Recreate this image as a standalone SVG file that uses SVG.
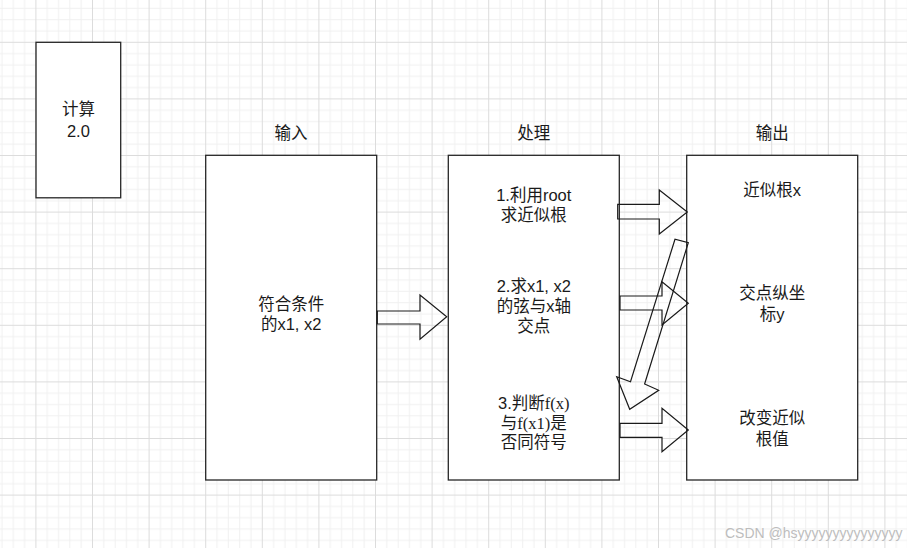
<svg xmlns="http://www.w3.org/2000/svg" width="907" height="548" viewBox="0 0 907 548">
  <defs>
    <pattern id="grid" patternUnits="userSpaceOnUse" x="35.4" y="41.8" width="56.6" height="56.6">
      <rect x="11.32" y="0" width="1" height="56.6" fill="#f0f0f0"/>
      <rect x="22.64" y="0" width="1" height="56.6" fill="#f0f0f0"/>
      <rect x="33.96" y="0" width="1" height="56.6" fill="#f0f0f0"/>
      <rect x="45.28" y="0" width="1" height="56.6" fill="#f0f0f0"/>
      <rect x="0" y="11.32" width="56.6" height="1" fill="#f0f0f0"/>
      <rect x="0" y="22.64" width="56.6" height="1" fill="#f0f0f0"/>
      <rect x="0" y="33.96" width="56.6" height="1" fill="#f0f0f0"/>
      <rect x="0" y="45.28" width="56.6" height="1" fill="#f0f0f0"/>
      <rect x="0" y="0" width="1" height="56.6" fill="#dcdcdc"/>
      <rect x="0" y="0" width="56.6" height="1" fill="#dcdcdc"/>
    </pattern>
  </defs>
  <style>
    .box { fill: #ffffff; stroke: #262626; stroke-width: 1.3; }
    .arrow { fill: none; stroke: #1a1a1a; stroke-width: 1.2; stroke-linejoin: miter; }
    text { font-family: "Liberation Sans", Arial, "Noto Sans CJK SC", sans-serif; font-size: 16.5px; fill: #1a1a1a; text-anchor: middle; }
    .serif { font-family: "Liberation Serif", "Times New Roman", serif; }
    .wm { font-size: 14px; fill: #bdbdbd; text-anchor: start; }
  </style>
  <rect x="0" y="0" width="907" height="548" fill="#ffffff"/>
  <rect x="0" y="0" width="907" height="548" fill="url(#grid)"/>

  <g id="node-calc">
    <rect class="box" x="36" y="42.3" width="84.7" height="155.5"/>
    <text x="78.4" y="115">计算</text>
    <text x="78.4" y="136.5">2.0</text>
  </g>

  <g id="label-input">
    <text x="291" y="139">输入</text>
  </g>
  <g id="label-process">
    <text x="533.8" y="139">处理</text>
  </g>
  <g id="label-output">
    <text x="772.2" y="139">输出</text>
  </g>

  <g id="node-input">
    <rect class="box" x="205.7" y="155.3" width="171" height="324.7"/>
    <text x="291.2" y="309.5">符合条件</text>
    <text x="291.2" y="330">的x1, x2</text>
  </g>

  <g id="node-process">
    <rect class="box" x="448.3" y="155.3" width="171" height="324.7"/>
    <text x="533.8" y="201">1.利用root</text>
    <text x="533.8" y="221">求近似根</text>
    <text x="533.8" y="291.5">2.求x1, x2</text>
    <text x="533.8" y="311.5">的弦与x轴</text>
    <text x="533.8" y="331.5">交点</text>
    <text x="533.8" y="409">3.判断<tspan class="serif">f(x)</tspan></text>
    <text x="533.8" y="428.5">与<tspan class="serif">f(x1)</tspan>是</text>
    <text x="533.8" y="448">否同符号</text>
  </g>

  <g id="node-output">
    <rect class="box" x="686.7" y="155.3" width="171" height="324.7"/>
    <text x="772.2" y="196">近似根x</text>
    <text x="772.2" y="299">交点纵坐</text>
    <text x="772.2" y="320">标y</text>
    <text x="772.2" y="424">改变近似</text>
    <text x="772.2" y="445">根值</text>
  </g>

  <g id="connectors">
    <polygon class="arrow" points="377.3,311 420,311 420,295 446.7,316.7 420,339.3 420,324 377.3,324"/>
    <polygon class="arrow" points="617.7,204.3 659.3,204.3 659.3,190 687.3,212 659.3,234 659.3,219 617.7,219"/>
    <polygon class="arrow" points="620,296 662,296 662,281.7 688.3,303.3 662,325 662,310 620,310"/>
    <polygon class="arrow" points="620,423.3 662,423.3 662,408.3 688.3,430 662,451.7 662,437.3 620,437.3"/>
    <polygon class="arrow" points="675,239.2 630.5,381.7 616.7,376.7 629.7,409.3 658.7,390.3 644.6,384 688.3,242.7"/>
  </g>

  <text class="wm" x="725" y="538">CSDN @hsyyyyyyyyyyyyyyy</text>
</svg>
